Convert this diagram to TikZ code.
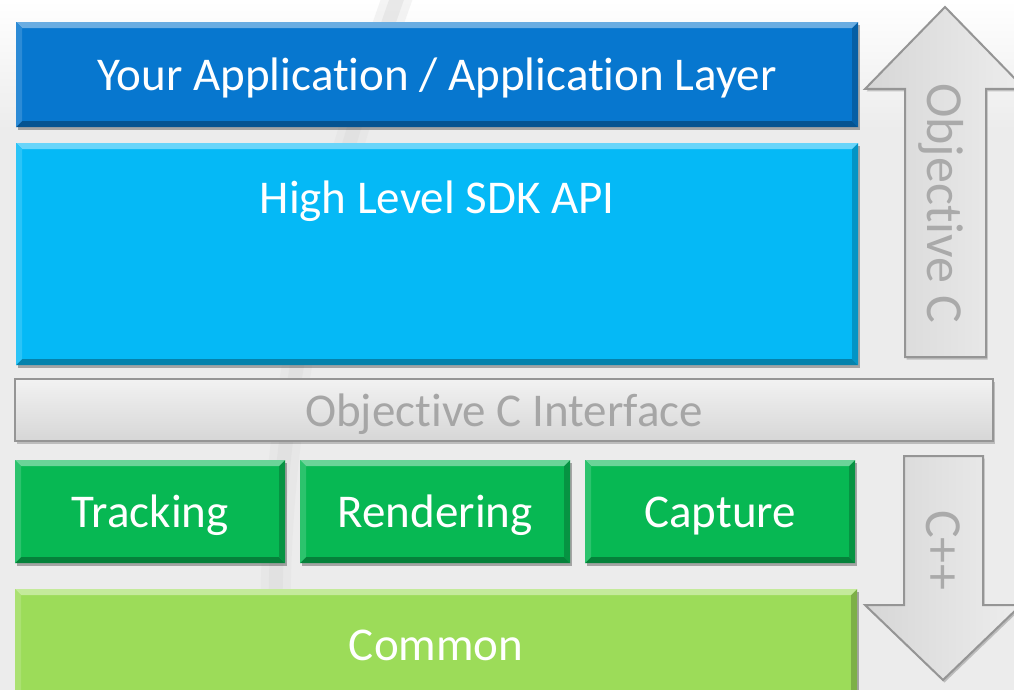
\documentclass[tikz,border=0pt]{standalone}
\usepackage{fontspec}
\setmainfont{Carlito}[Ligatures=NoCommon]
\usetikzlibrary{shadows}
\definecolor{appblue}{HTML}{0777CF}
\definecolor{sdkblue}{HTML}{05B9F6}
\definecolor{modgreen}{HTML}{07B853}
\definecolor{comgreen}{HTML}{9CDC59}
\definecolor{ifacefg}{HTML}{A6A6A6}
\definecolor{lineg}{HTML}{959595}
\definecolor{bgg}{HTML}{ECECEC}
\definecolor{arrowtxt}{HTML}{AAAAAA}
\begin{document}
\begin{tikzpicture}[x=1pt,y=-1pt,
  bigfont/.style={font=\fontsize{47}{56}\selectfont},
  layer/.style={fill=#1, inner sep=0pt, anchor=north west, text=white, bigfont,
    text height=32pt, text depth=0pt,
    drop shadow={shadow xshift=1.5pt, shadow yshift=-2.5pt, opacity=0.3, fill=black},
    path picture={
      \fill[#1!60!white] (path picture bounding box.north west) -- (path picture bounding box.north east)
        -- ([shift={(-6,6)}]path picture bounding box.north east) -- ([shift={(6,6)}]path picture bounding box.north west) -- cycle;
      \fill[#1!85!white] (path picture bounding box.north west) -- (path picture bounding box.south west)
        -- ([shift={(6,-6)}]path picture bounding box.south west) -- ([shift={(6,6)}]path picture bounding box.north west) -- cycle;
      \fill[#1!70!black] (path picture bounding box.south west) -- (path picture bounding box.south east)
        -- ([shift={(-6,-6)}]path picture bounding box.south east) -- ([shift={(6,-6)}]path picture bounding box.south west) -- cycle;
      \fill[#1!80!black] (path picture bounding box.north east) -- (path picture bounding box.south east)
        -- ([shift={(-6,-6)}]path picture bounding box.south east) -- ([shift={(-6,6)}]path picture bounding box.north east) -- cycle;
    }},
  iface/.style={inner sep=0pt, anchor=north west, top color=white!95!black, bottom color=white!84!black,
    draw=lineg, line width=2pt, text=ifacefg, bigfont, text height=32pt, text depth=0pt,
    drop shadow={shadow xshift=1.5pt, shadow yshift=-2.5pt, opacity=0.2, fill=black}},
  arrowshape/.style={draw=lineg, line width=2pt, left color=white!84!black, right color=white!93!black,
    drop shadow={shadow xshift=1.5pt, shadow yshift=-2.5pt, opacity=0.2, fill=black}},
  arrowtext/.style={rotate=-90, inner sep=0pt, text=arrowtxt, font=\fontsize{52}{60}\selectfont,
    text height=33pt, text depth=0pt}
]
\useasboundingbox (0,0) rectangle (1014,690);
% background
\fill[bgg] (0,0) rectangle (1014,690);
\shade[top color=white, bottom color=bgg] (0,0) rectangle (1014,130);
\draw[white!88!black, line width=30pt, opacity=0.35] (400,-10) .. controls (325,200) and (262,430) .. (278,700);
\draw[white!86!black, line width=14pt, opacity=0.45] (400,-10) .. controls (325,200) and (262,430) .. (278,700);

% layers
\node[layer=appblue, minimum width=842pt, minimum height=105pt] (app) at (16,22) {Your Application / Application Layer};
\node[layer=sdkblue, minimum width=842pt, minimum height=222pt,
  label={[name=sdktext, anchor=base, yshift=-70pt, text=white, bigfont]north:High Level SDK API}] (sdk) at (16,143) {};
\node[iface, minimum width=978pt, minimum height=62pt] (objcif) at (14,378) {Objective C Interface};
\node[layer=modgreen, minimum width=270pt, minimum height=103pt] (track) at (15,460) {Tracking};
\node[layer=modgreen, minimum width=270pt, minimum height=103pt] (render) at (300,460) {Rendering};
\node[layer=modgreen, minimum width=270pt, minimum height=103pt] (capture) at (585,460) {Capture};
\node[layer=comgreen, minimum width=842pt, minimum height=110pt] (common) at (15,589) {Common};

% side arrows
\draw[arrowshape] (905,357) -- (905,89) -- (865,89) -- (945,7) -- (1025,89) -- (986,89) -- (986,357) -- cycle;
\draw[arrowshape] (904,456) -- (983,456) -- (983,605) -- (1021,605) -- (943,680) -- (865,605) -- (904,605) -- cycle;
\node[arrowtext] (objc) at (944,203) {Objective C};
\node[arrowtext] (cpp) at (943,550) {C++};
\end{tikzpicture}
\end{document}
